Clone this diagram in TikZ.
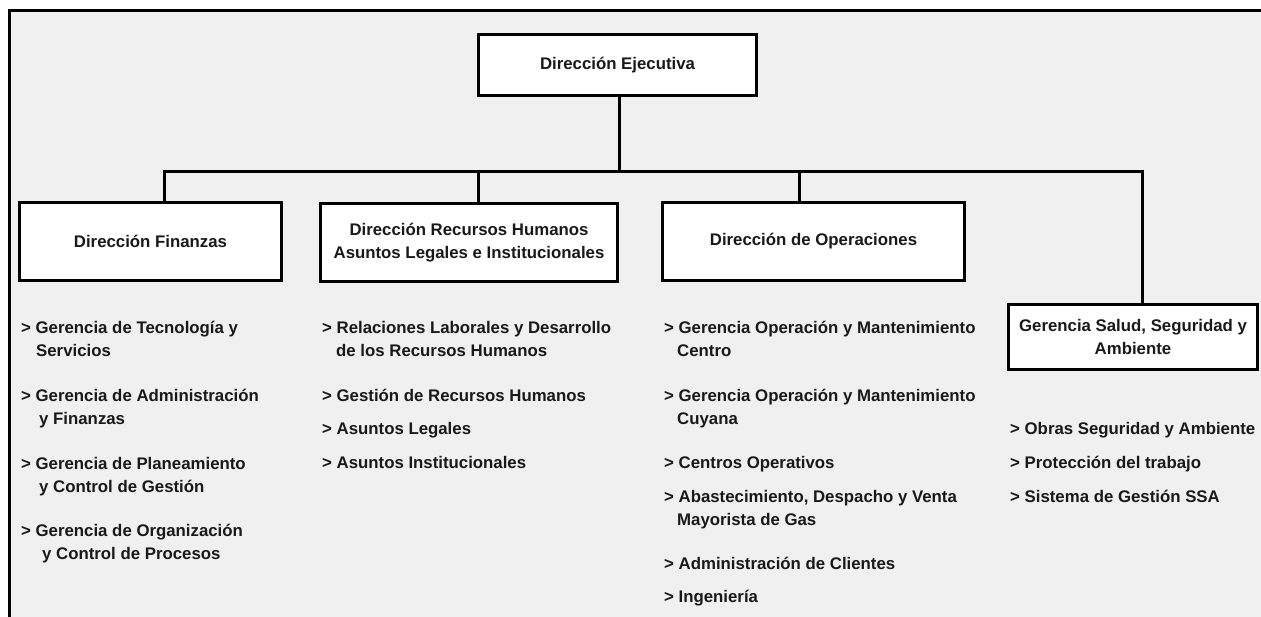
\documentclass[tikz,border=0pt]{standalone}
\usepackage{fontspec}
\setmainfont{Liberation Sans}
\definecolor{bgray}{RGB}{240,240,240}
\begin{document}
\begin{tikzpicture}[x=1pt,y=-1pt,
  every node/.style={font=\bfseries\fontsize{16.8}{23}\selectfont, inner sep=0pt, text=black!90},
  box/.style={draw=black, line width=3pt, fill=white, align=center},
  item/.style={anchor=base west, align=left},
  conn/.style={line width=3pt, line cap=rect}]
\useasboundingbox (0,0) rectangle (1261,616);
\begin{scope}
  \clip (0,0) rectangle (1261,616);
  \fill[bgray] (9,10) rectangle (1290,650);
  \draw[line width=3pt] (9,650) -- (9,10) -- (1290,10);
\end{scope}

% boxes
\node[box, minimum width=278pt, minimum height=61pt] (top) at (617.5,65) {Dirección Ejecutiva};
\node[box, minimum width=262pt, minimum height=78pt] (fin) at (150.5,241.5) {Dirección Finanzas};
\node[box, minimum width=297pt, minimum height=78pt] (rrhh) at (469,242.5) {Dirección Recursos Humanos\\Asuntos Legales e Institucionales};
\node[box, minimum width=302pt, minimum height=78pt] (ops) at (813.5,241.5) {Dirección de Operaciones};
\node[box, minimum width=249pt, minimum height=65pt] (ssa) at (1133,337) {Gerencia Salud, Seguridad y\\Ambiente};

% connectors
\coordinate (hub) at (619,171);
\coordinate (j1) at (164,171);
\coordinate (j2) at (478,171);
\coordinate (j3) at (799,171);
\coordinate (j4) at (1142,171);
\draw[conn] (top.south -| hub) -- (hub);
\draw[conn] (j1) -- (j4);
\draw[conn] (j1) -- (j1 |- fin.north);
\draw[conn] (j2) -- (j2 |- rrhh.north);
\draw[conn] (j3) -- (j3 |- ops.north);
\draw[conn] (j4) -- (j4 |- ssa.north);

% column 1 (two-line items anchored at the baseline of their last line)
\node[item] (f1) at (21,356) {> Gerencia de Tecnología y\\\hspace*{15pt}Servicios};
\node[item] (f2) at (21,424) {> Gerencia de Administración\\\hspace*{18pt}y Finanzas};
\node[item] (f3) at (21,492) {> Gerencia de Planeamiento\\\hspace*{18pt}y Control de Gestión};
\node[item] (f4) at (21,559) {> Gerencia de Organización\\\hspace*{21pt}y Control de Procesos};

% column 2
\node[item] (r1) at (322,356) {> Relaciones Laborales y Desarrollo\\\hspace*{14pt}de los Recursos Humanos};
\node[item] (r2) at (322,401) {> Gestión de Recursos Humanos};
\node[item] (r3) at (322,434) {> Asuntos Legales};
\node[item] (r4) at (322,468) {> Asuntos Institucionales};

% column 3
\node[item] (o1) at (664,356) {> Gerencia Operación y Mantenimiento\\\hspace*{13pt}Centro};
\node[item] (o2) at (664,424) {> Gerencia Operación y Mantenimiento\\\hspace*{13pt}Cuyana};
\node[item] (o3) at (664,468) {> Centros Operativos};
\node[item] (o4) at (664,525) {> Abastecimiento, Despacho y Venta\\\hspace*{13pt}Mayorista de Gas};
\node[item] (o5) at (664,569) {> Administración de Clientes};
\node[item] (o6) at (664,602) {> Ingeniería};

% column 4
\node[item] (s1) at (1010,434) {> Obras Seguridad y Ambiente};
\node[item] (s2) at (1010,468) {> Protección del trabajo};
\node[item] (s3) at (1010,502) {> Sistema de Gestión SSA};
\end{tikzpicture}
\end{document}
